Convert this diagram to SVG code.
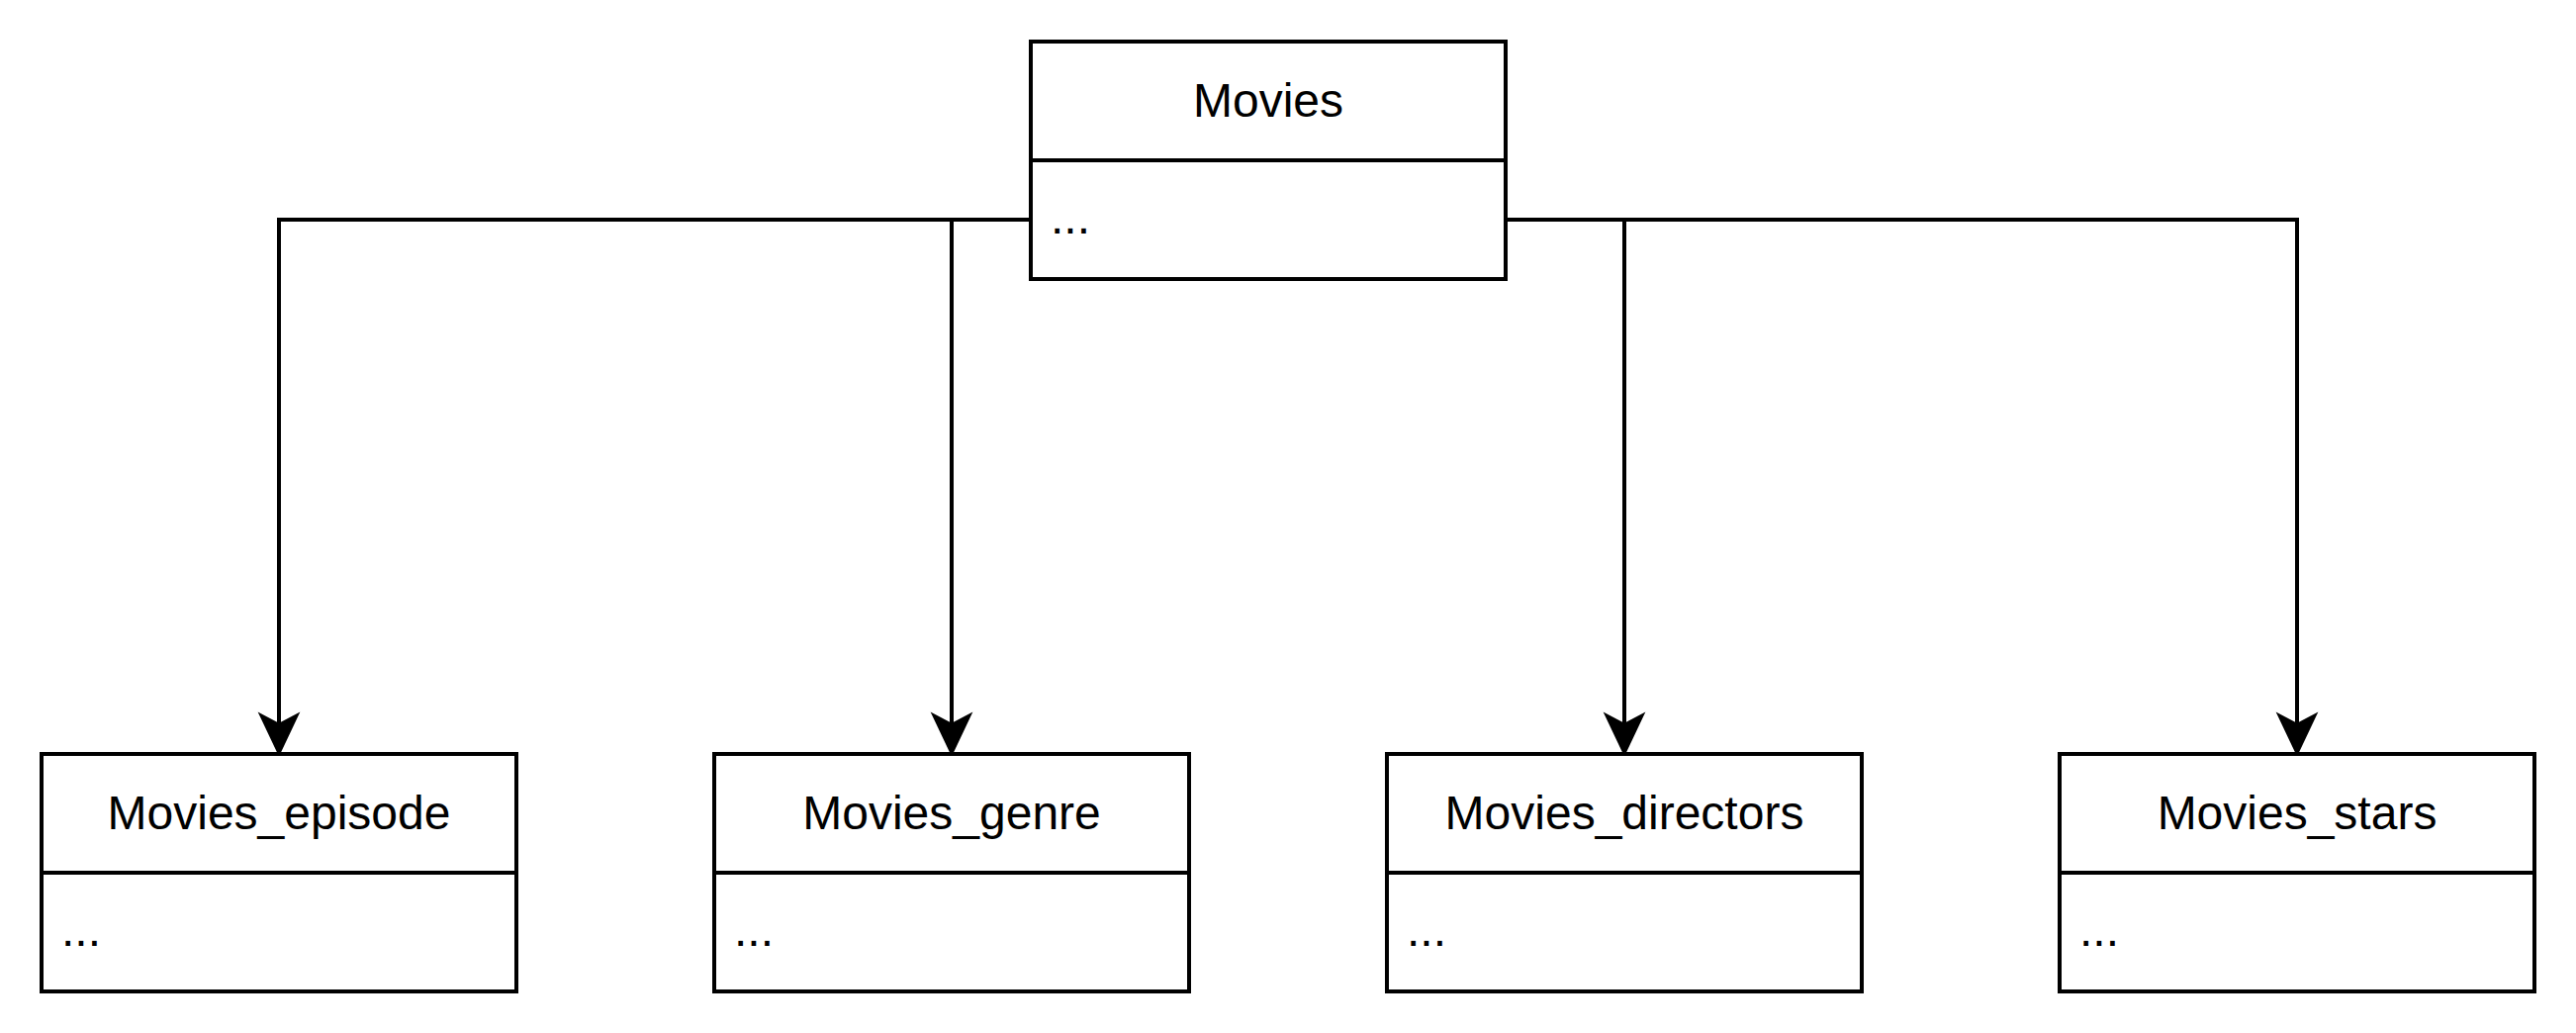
<svg xmlns="http://www.w3.org/2000/svg" width="2604" height="1044" viewBox="0 0 2604 1044">
  <style>
    .box { fill: #ffffff; stroke: #000000; stroke-width: 4; }
    .div { stroke: #000000; stroke-width: 4; fill: none; }
    .edge { fill: none; stroke: #000000; stroke-width: 4; }
    .title { font-family: "Liberation Sans", Arial, Helvetica, sans-serif; font-size: 48px; fill: #000000; text-anchor: middle; }
    .attr { font-family: "Liberation Sans", Arial, Helvetica, sans-serif; font-size: 48px; fill: #000000; }
    .head { fill: #000000; stroke: #000000; stroke-width: 4; stroke-linejoin: miter; }
  </style>
  <defs>
    <path id="arrow" d="M0,0 L-17,-36 L0,-27 L17,-36 Z"/>
  </defs>
  <rect width="2604" height="1044" fill="#ffffff"/>

  <g id="connectors">
    <path class="edge" d="M1042,222 H282 V738"/>
    <path class="edge" d="M1042,222 H962 V738"/>
    <path class="edge" d="M1522,222 H1642 V738"/>
    <path class="edge" d="M1522,222 H2322 V738"/>
    <use href="#arrow" class="head" x="282" y="760"/>
    <use href="#arrow" class="head" x="962" y="760"/>
    <use href="#arrow" class="head" x="1642" y="760"/>
    <use href="#arrow" class="head" x="2322" y="760"/>
  </g>

  <g id="movies">
    <rect class="box" x="1042" y="42" width="480" height="240"/>
    <line class="div" x1="1042" y1="162" x2="1522" y2="162"/>
    <text class="title" x="1282" y="118">Movies</text>
    <text class="attr" x="1062" y="236">...</text>
  </g>

  <g id="movies_episode">
    <rect class="box" x="42" y="762" width="480" height="240"/>
    <line class="div" x1="42" y1="882" x2="522" y2="882"/>
    <text class="title" x="282" y="838">Movies_episode</text>
    <text class="attr" x="62" y="956">...</text>
  </g>

  <g id="movies_genre">
    <rect class="box" x="722" y="762" width="480" height="240"/>
    <line class="div" x1="722" y1="882" x2="1202" y2="882"/>
    <text class="title" x="962" y="838">Movies_genre</text>
    <text class="attr" x="742" y="956">...</text>
  </g>

  <g id="movies_directors">
    <rect class="box" x="1402" y="762" width="480" height="240"/>
    <line class="div" x1="1402" y1="882" x2="1882" y2="882"/>
    <text class="title" x="1642" y="838">Movies_directors</text>
    <text class="attr" x="1422" y="956">...</text>
  </g>

  <g id="movies_stars">
    <rect class="box" x="2082" y="762" width="480" height="240"/>
    <line class="div" x1="2082" y1="882" x2="2562" y2="882"/>
    <text class="title" x="2322" y="838">Movies_stars</text>
    <text class="attr" x="2102" y="956">...</text>
  </g>
</svg>
